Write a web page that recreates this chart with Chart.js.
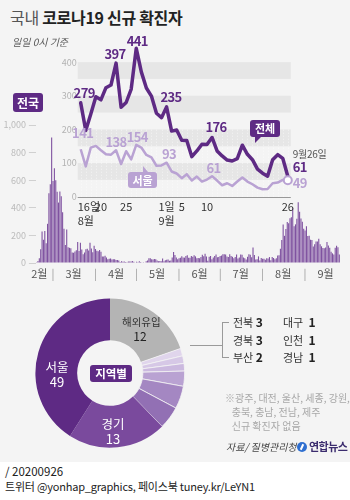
<!DOCTYPE html>
<html><head><meta charset="utf-8">
<script src="https://cdn.jsdelivr.net/npm/chart.js@4"></script>
<style>
body{margin:0;width:350px;height:500px;background:#fff;font-family:'Noto Sans CJK KR','Noto Sans',sans-serif;overflow:hidden;position:relative}
#panel{position:absolute;left:0;top:0;width:350px;height:462px;background:#f4f4f4}
canvas{position:absolute}
.t{position:absolute;white-space:nowrap;line-height:1}
.box{position:absolute;color:#fff;font-weight:bold;font-size:11px;text-align:center;border-radius:3px;line-height:18px}
.ln{position:absolute;background:#9a9a9a}
</style></head><body>
<div id="panel"></div>
<canvas id="bars" width="350" height="175" style="left:0;top:110px"></canvas>
<canvas id="lines" width="295" height="200" style="left:55px;top:30px"></canvas>
<canvas id="donut" width="160" height="160" style="left:30px;top:293px"></canvas>

<div class="t" style="left:10px;top:9px;font-size:16px;color:#555;letter-spacing:-0.3px">국내 <b style="color:#222">코로나19 신규 확진자</b></div>
<div class="t" style="left:12px;top:37px;font-size:10px;color:#555;font-style:italic">일일 0시 기준</div>

<div class="box" style="left:13px;top:93px;width:30px;height:19px;background:#5e2a84;font-size:12px;line-height:19px">전국</div>

<div class="box" style="left:250px;top:120px;width:30px;height:17px;background:#5e2a84;line-height:17px">전체</div>
<div style="position:absolute;left:255px;top:137px;width:0;height:0;border-left:0 solid transparent;border-right:6px solid transparent;border-top:6px solid #5e2a84"></div>
<div class="box" style="left:128px;top:172px;width:29px;height:16px;background:#b9a2d3;line-height:16px">서울</div>
<div style="position:absolute;left:143px;top:166px;width:0;height:0;border-left:0 solid transparent;border-right:5px solid transparent;border-bottom:6px solid #b9a2d3"></div>

<div class="t" style="left:122px;top:317px;font-size:10.5px;color:#333;width:36px;text-align:center">해외유입</div>
<div class="t" style="left:122px;top:330px;font-size:12px;color:#222;width:36px;text-align:center">12</div>
<div class="t" style="left:42px;top:361px;font-size:12.5px;color:#fff;width:30px;text-align:center">서울</div>
<div class="t" style="left:42px;top:375px;font-size:13px;color:#fff;width:30px;text-align:center">49</div>
<div class="t" style="left:98px;top:418px;font-size:12.5px;color:#fff;width:30px;text-align:center">경기</div>
<div class="t" style="left:98px;top:432px;font-size:13px;color:#fff;width:30px;text-align:center">13</div>
<div class="box" style="left:90px;top:365px;width:42px;height:17px;background:#5e2a84;line-height:17px;font-size:11.5px">지역별</div>

<div class="ln" style="left:190px;top:345px;width:32px;height:1px"></div>
<div class="ln" style="left:222px;top:322px;width:1px;height:36px"></div>
<div class="ln" style="left:222px;top:322px;width:7px;height:1px"></div>
<div class="ln" style="left:222px;top:357px;width:7px;height:1px"></div>

<div id="regionList"></div>

<div class="t" style="left:225px;top:391px;font-size:10px;color:#a8a8a8;line-height:14px">※광주, 대전, 울산, 세종, 강원,<br>&nbsp;&nbsp;&nbsp;충북, 충남, 전남, 제주<br>&nbsp;&nbsp;&nbsp;신규 확진자 없음</div>

<div class="t" style="left:226px;top:442px;font-size:10px;color:#444;font-style:italic">자료/ 질병관리청</div>
<div style="position:absolute;left:297px;top:442px;width:10px;height:10px;border-radius:50%;background:#2f6fd0"></div>
<div style="position:absolute;left:301px;top:444px;width:2px;height:6px;background:#fff;transform:rotate(25deg)"></div>
<div class="t" style="left:309px;top:441px;font-size:11px;color:#3b2c6e;font-weight:bold;letter-spacing:-0.5px">연합뉴스</div>

<div class="t" style="left:5px;top:466px;font-size:11.5px;color:#222">/ 20200926</div>
<div class="t" style="left:5px;top:481px;font-size:11px;color:#222;letter-spacing:-0.2px">트위터 @yonhap_graphics, 페이스북 tuney.kr/LeYN1</div>

<script>
// ---------- DATA ----------
// Daily new confirmed cases (0시 기준), Feb 18 – Sep 26, 2020, one array per month
const febCases = [1,15,34,100,229,169,231,144,284,505,571,909]; // from Feb 18
const marCases = [595,686,600,516,438,518,483,367,248,131,242,114,110,107,76,74,84,93,152,87,147,98,64,76,100,104,91,146,105,78,125];
const aprCases = [101,89,86,94,81,47,47,53,39,27,30,32,25,27,27,22,22,18,8,13,9,11,8,6,10,10,10,14,9,4];
const mayCases = [9,6,13,8,3,2,4,12,18,34,35,27,26,29,27,19,13,15,13,32,12,20,23,25,16,19,40,79,58,39,27];
const junCases = [35,38,49,39,39,51,57,38,38,50,45,56,48,34,37,34,43,59,49,67,48,17,46,51,28,39,51,62,42,43];
const julCases = [51,54,63,63,61,48,44,63,50,45,35,44,62,33,39,61,60,39,34,26,45,63,59,41,113,58,25,28,48,18,36];
const augCases = [31,30,23,34,33,43,20,43,36,28,34,54,56,103,166,279,197,246,297,288,324,332,397,266,280,320,441,371,323,299,248];
const sepCases = [235,267,195,198,168,167,119,136,156,155,176,136,121,109,106,113,153,126,110,82,70,61,110,125,114,61];
const barMonths = [2,3,4,5,6,7,8,9];
const barFirstDay = [18,1,1,1,1,1,1,1];
const monthLabelDay = [20,16,16,16,16,16,16,16];
const barYTicks = [0,200,400,600,800,1000];

// Line chart: Aug 16 – Sep 26
const lineDates = ['8/16','8/17','8/18','8/19','8/20','8/21','8/22','8/23','8/24','8/25','8/26','8/27','8/28','8/29','8/30','8/31',
  '9/1','9/2','9/3','9/4','9/5','9/6','9/7','9/8','9/9','9/10','9/11','9/12','9/13','9/14','9/15','9/16','9/17','9/18','9/19','9/20','9/21','9/22','9/23','9/24','9/25','9/26'];
const totalCases = [279,197,246,297,288,324,332,397,266,280,320,441,371,323,299,248,235,267,195,198,168,167,119,136,156,155,176,136,121,109,106,113,153,126,110,82,70,61,110,125,114,61];
const seoulCases = [141,90,146,151,138,126,125,138,97,135,111,154,146,124,117,92,93,101,75,69,55,67,48,60,45,51,61,48,34,40,32,45,57,45,37,27,22,23,40,42,50,49];
const lineYTicks = [0,100,200,300,400];
const bandRanges = [[50,100],[150,200],[250,300],[350,400]];
const lineTickDates = ['8/16','8/20','8/25','9/1','9/5','9/10','9/26'];
const lineTickText = ['16일','20','25','1일','5','10','26'];
const lineTickSub = ['8월','','','9월','','',''];
const totalLabelDates = ['8/16','8/23','8/27','9/1','9/11'];
const seoulLabelDates = ['8/16','8/23','8/27','9/1','9/11'];

// Donut (지역별), slice sizes as drawn; shown counts in labels
const regionNames = ['해외유입','대구','인천','경남','부산','경북','전북','경기','서울'];
const sliceValues = [12,1,1,1,2,3,3,13,25];
const listNamesA = ['전북','경북','부산'];
const listValuesA = [3,3,2];
const listNamesB = ['대구','인천','경남'];
const listValuesB = [1,1,1];

// ---------- COLORS ----------
const DARK = '#5e2a84', LIGHT = '#b9a2d3', BAR = '#7f52a0';
const FONT = '"Noto Sans CJK KR", "Noto Sans", sans-serif';

// ---------- BAR CHART ----------
const barCases = [].concat(febCases, marCases, aprCases, mayCases, junCases, julCases, augCases, sepCases);
const monthArrays = [febCases, marCases, aprCases, mayCases, junCases, julCases, augCases, sepCases];
const barDates = [], barTickText = [];
monthArrays.forEach((arr, mi) => {
  arr.forEach((v, k) => {
    const d = barFirstDay[mi] + k, m = barMonths[mi];
    barDates.push(m + '/' + d);
    let t = '';
    if (d === monthLabelDay[mi]) t = m + '월';
    else if (d === 1 && mi > 0) t = '|';
    barTickText.push(t);
  });
});

new Chart(document.getElementById('bars'), {
  type: 'bar',
  data: { labels: barDates, datasets: [{ data: barCases, backgroundColor: BAR, barPercentage: 0.8, categoryPercentage: 1, borderWidth: 0 }] },
  options: {
    responsive: false, animation: false, devicePixelRatio: 1,
    layout: { padding: { top: 15, right: 10, left: 0, bottom: 0 } },
    plugins: { legend: { display: false }, tooltip: { enabled: false } },
    scales: {
      x: {
        grid: { display: false }, border: { display: false },
        ticks: {
          autoSkip: false, maxRotation: 0, minRotation: 0, padding: -4,
          font: { size: 11, family: FONT },
          color: c => (barTickText[c.index] === '|' ? '#999' : '#555'),
          callback: (v, i) => barTickText[i]
        },
        afterFit: s => { s.height = 22; }
      },
      y: {
        min: 0, max: 1000,
        afterBuildTicks: s => { s.ticks = barYTicks.map(v => ({ value: v })); },
        ticks: { padding: 3, font: { size: 9, family: FONT }, color: '#bbb' },
        grid: { drawOnChartArea: false, tickLength: 7, color: '#d0d0d0' },
        border: { display: false },
        afterFit: s => { s.width = 35.9; }
      }
    }
  }
});

// ---------- LINE CHART ----------
const idx = d => lineDates.indexOf(d);
const lineDeco = {
  id: 'lineDeco',
  beforeDatasetsDraw(chart) {
    const { ctx, chartArea: a, scales: { x, y } } = chart;
    ctx.save();
    ctx.fillStyle = '#e6e6e6';
    bandRanges.forEach(([lo, hi]) => {
      const y1 = y.getPixelForValue(hi), y2 = y.getPixelForValue(lo);
      ctx.fillRect(a.left - 3, y1, a.right - a.left + 6, y2 - y1);
    });
    ctx.strokeStyle = 'rgba(255,255,255,0.6)';
    ctx.lineWidth = 1; ctx.setLineDash([1, 2]);
    lineDates.forEach((d, i) => {
      const px = Math.round(x.getPixelForValue(i)) + 0.5;
      ctx.beginPath(); ctx.moveTo(px, y.getPixelForValue(0)); ctx.lineTo(px, y.getPixelForValue(200)); ctx.stroke();
    });
    ctx.setLineDash([]);
    ctx.fillStyle = '#b3b3b3'; ctx.font = '9px ' + FONT; ctx.textAlign = 'right'; ctx.textBaseline = 'middle';
    lineYTicks.forEach(v => ctx.fillText(String(v), a.left - 4, y.getPixelForValue(v)));
    ctx.strokeStyle = '#999'; ctx.lineWidth = 1;
    const y0 = Math.round(y.getPixelForValue(0)) + 0.5;
    ctx.beginPath(); ctx.moveTo(a.left - 3, y0); ctx.lineTo(a.right + 3, y0); ctx.stroke();
    // x labels
    ctx.fillStyle = '#333'; ctx.font = '11px ' + FONT; ctx.textBaseline = 'middle';
    lineTickDates.forEach((d, k) => {
      const px = x.getPixelForValue(idx(d));
      const txt = lineTickText[k];
      if (txt.endsWith('일')) { ctx.textAlign = 'left'; ctx.fillText(txt, px - 3, y0 + 9); }
      else { ctx.textAlign = 'center'; ctx.fillText(txt, px, y0 + 9); }
      if (lineTickSub[k]) { ctx.textAlign = 'left'; ctx.fillText(lineTickSub[k], px - 3, y0 + 23); }
    });
    ctx.restore();
  },
  afterDatasetsDraw(chart) {
    const { ctx, scales: { x, y } } = chart;
    ctx.save();
    ctx.textAlign = 'center'; ctx.textBaseline = 'middle';
    ctx.font = 'bold 13px ' + FONT;
    try { ctx.letterSpacing = '-0.6px'; } catch (e) {}
    const totOff = [[3.5, -10], [-1, -9], [1, -7.5], [9.5, -20.5], [4, -10.5]];
    ctx.fillStyle = DARK;
    totalLabelDates.forEach((d, k) => {
      const i = idx(d);
      ctx.fillText(String(totalCases[i]), x.getPixelForValue(i) + totOff[k][0], y.getPixelForValue(totalCases[i]) + totOff[k][1]);
    });
    const seoOff = [[2, -16], [0, -8], [1, -7.5], [7.5, -11], [1.5, -8]];
    ctx.fillStyle = LIGHT;
    seoulLabelDates.forEach((d, k) => {
      const i = idx(d);
      ctx.fillText(String(seoulCases[i]), x.getPixelForValue(i) + seoOff[k][0], y.getPixelForValue(seoulCases[i]) + seoOff[k][1]);
    });
    // end labels
    const L = lineDates.length - 1, ex = x.getPixelForValue(L) + 5;
    ctx.textAlign = 'left';
    ctx.fillStyle = DARK; ctx.fillText(String(totalCases[L]), ex, y.getPixelForValue(totalCases[L]) - 9);
    ctx.fillStyle = LIGHT; ctx.fillText(String(seoulCases[L]), ex, y.getPixelForValue(seoulCases[L]) + 2.5);
    ctx.font = '10px ' + FONT; ctx.fillStyle = '#555';
    try { ctx.letterSpacing = '-0.3px'; } catch (e) {}
    const [mm, dd] = lineDates[L].split('/');
    ctx.fillText(mm + '월' + dd + '일', ex, y.getPixelForValue(totalCases[L]) - 22);
    ctx.restore();
  }
};

new Chart(document.getElementById('lines'), {
  type: 'line',
  data: {
    labels: lineDates,
    datasets: [
      { data: totalCases, borderColor: DARK, borderWidth: 3.5, pointRadius: 0, tension: 0, order: 1, borderJoinStyle: 'round', borderCapStyle: 'round', clip: false },
      { data: seoulCases, borderColor: LIGHT, borderWidth: 2.5, tension: 0, order: 0, borderJoinStyle: 'round', clip: false,
        pointRadius: c => (c.dataIndex === seoulCases.length - 1 ? 4 : 0),
        pointBackgroundColor: '#fff', pointBorderColor: LIGHT, pointBorderWidth: 2 }
    ]
  },
  options: {
    responsive: false, animation: false, devicePixelRatio: 1,
    layout: { padding: { left: 25.7, right: 62.2, top: 15.3, bottom: 33.3 } },
    plugins: { legend: { display: false }, tooltip: { enabled: false } },
    scales: {
      x: { display: false },
      y: { display: false, min: 0, max: 450 }
    }
  },
  plugins: [lineDeco]
});

// ---------- DONUT ----------
new Chart(document.getElementById('donut'), {
  type: 'doughnut',
  data: {
    labels: regionNames,
    datasets: [{
      data: sliceValues,
      backgroundColor: ['#b4b4b4', '#e0d5ec', '#d6c8e6', '#cbb9df', '#b9a2d2', '#a487c2', '#9270b4', '#7a4a9d', DARK],
      borderColor: '#f4f4f4', borderWidth: [0, 0.8, 0.8, 0.8, 0.8, 0.8, 0.8, 0, 0]
    }]
  },
  options: {
    responsive: false, animation: false, devicePixelRatio: 1, cutout: '44%',
    layout: { padding: 5 },
    plugins: { legend: { display: false }, tooltip: { enabled: false } }
  }
});

// region list text
const rl = document.getElementById('regionList');
const rows = [322, 340, 357];
function addItem(name, val, left, top) {
  const d = document.createElement('div');
  d.className = 't';
  d.style.cssText = `left:${left}px;top:${top - 6}px;font-size:11px;color:#333`;
  d.innerHTML = name + '&nbsp;<b style="font-size:12px;color:#222">' + val + '</b>';
  rl.appendChild(d);
}
listNamesA.forEach((n, k) => addItem(n, listValuesA[k], 233, rows[k]));
listNamesB.forEach((n, k) => addItem(n, '&nbsp;' + listValuesB[k], 283, rows[k]));
</script>
</body></html>
